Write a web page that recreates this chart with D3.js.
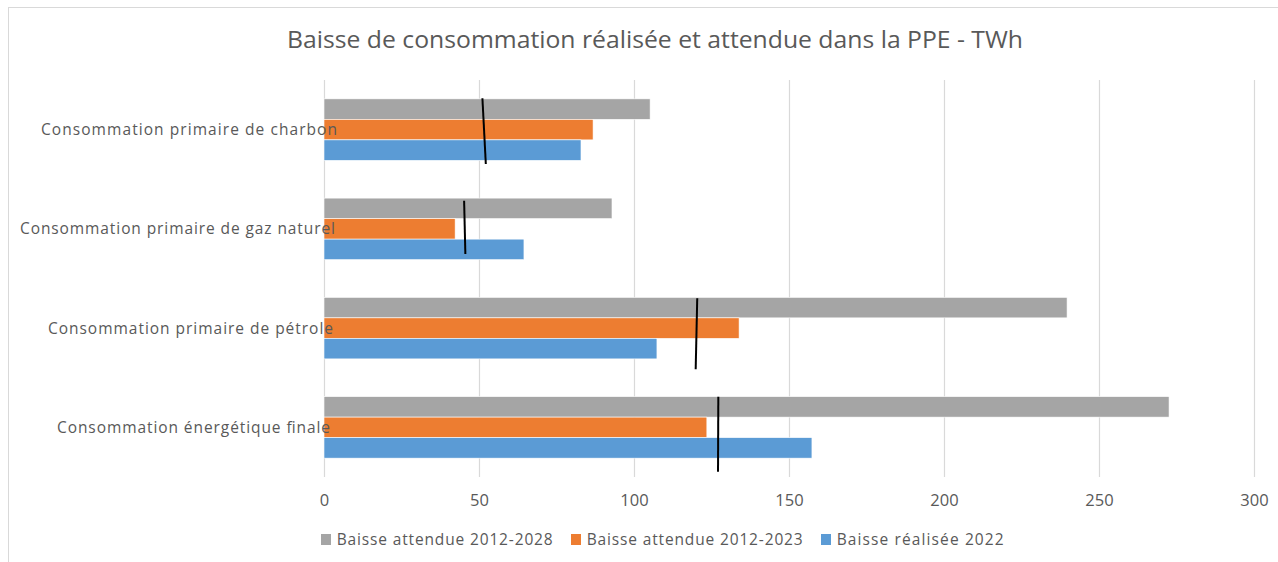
<!DOCTYPE html>
<html>
<head>
<meta charset="utf-8">
<script src="https://cdn.jsdelivr.net/npm/d3@7"></script>
<style>
  body { margin: 0; background: #fff; }
  text { font-family: "Open Sans", "DejaVu Sans", sans-serif; fill: #595959; }
</style>
</head>
<body>
<div id="chart"></div>
<script>
// Categories, top to bottom
const categories = [
    "Consommation primaire de charbon",
    "Consommation primaire de gaz naturel",
    "Consommation primaire de pétrole",
    "Consommation énergétique finale"
];

// Series (drawn top to bottom inside each group)
const seriesNames = ["Baisse attendue 2012-2028", "Baisse attendue 2012-2023", "Baisse réalisée 2022"];
const attendue2028 = [105.2, 92.9, 239.7, 272.6];
const attendue2023 = [86.8, 42.3, 133.9, 123.5];
const realisee2022 = [82.9, 64.5, 107.4, 157.4];

// Hand-drawn black marker lines (value at top end, value at bottom end)
const markerTop = [51.1, 45.2, 120.4, 127.2];
const markerBottom = [52.2, 45.6, 119.9, 127.1];

const xTicks = [0, 50, 100, 150, 200, 250, 300];

const colors = ["#a5a5a5", "#ed7d31", "#5b9bd5"];
const seriesValues = [attendue2028, attendue2023, realisee2022];

const width = 1278;
const height = 562;
const plot = {left: 324, right: 1254, top: 80, bottom: 477};

const svg = d3.select("#chart")
    .append("svg")
    .attr("width", width)
    .attr("height", height);

// Chart frame
svg.append("rect")
    .attr("x", 8.5)
    .attr("y", 7.5)
    .attr("width", 1290)
    .attr("height", 600)
    .attr("fill", "#fff")
    .attr("stroke", "#d9d9d9");

// Title
svg.append("text")
    .attr("x", 655)
    .attr("y", 48)
    .attr("text-anchor", "middle")
    .attr("font-size", 24)
    .attr("textLength", 736)
    .attr("lengthAdjust", "spacingAndGlyphs")
    .text("Baisse de consommation réalisée et attendue dans la PPE - TWh");

// Scales
const x = d3.scaleLinear()
    .domain([0, 300])
    .range([plot.left, plot.right]);
const y = d3.scaleBand()
    .domain(categories)
    .range([plot.top, plot.bottom])
    .paddingInner(0.38)
    .paddingOuter(0.19);
const ySub = d3.scaleBand()
    .domain(seriesNames)
    .range([0, y.bandwidth()]);

// Vertical gridlines
svg.append("g")
    .selectAll("line")
    .data(xTicks)
    .enter()
    .append("line")
    .attr("x1", d => Math.round(x(d)) + 0.5)
    .attr("x2", d => Math.round(x(d)) + 0.5)
    .attr("y1", plot.top)
    .attr("y2", plot.bottom)
    .attr("stroke", "#d9d9d9")
    .attr("stroke-width", 1.2);

// X axis tick labels
const xAxis = svg.append("g")
    .attr("transform", `translate(0, ${plot.bottom})`)
    .call(d3.axisBottom(x).tickValues(xTicks).tickSize(0).tickPadding(0));
xAxis.select(".domain").remove();
xAxis.selectAll("text")
    .attr("dy", null)
    .attr("y", 29)
    .attr("font-size", 16.5)
    .attr("font-family", "\"Open Sans\", sans-serif")
    .attr("fill", "#595959");

// Bars
const rows = [];
categories.forEach((c, i) => {
    seriesNames.forEach((s, j) => {
        rows.push({cat: c, series: s, value: seriesValues[j][i], color: colors[j]});
    });
});
svg.append("g")
    .selectAll("rect")
    .data(rows)
    .enter()
    .append("rect")
    .attr("x", x(0))
    .attr("y", d => y(d.cat) + ySub(d.series))
    .attr("width", d => x(d.value) - x(0))
    .attr("height", ySub.bandwidth())
    .attr("fill", d => d.color)
    .attr("stroke", "#fff")
    .attr("stroke-width", 0.6);

// Category labels (drawn over the bars like in the original)
const labelEnd = [337, 335, 333, 330];
const labelWidth = [296, 315, 285, 273];
svg.append("g")
    .selectAll("text")
    .data(categories)
    .enter()
    .append("text")
    .attr("x", (d, i) => labelEnd[i])
    .attr("y", d => y(d) + y.bandwidth() / 2 + 5.5)
    .attr("text-anchor", "end")
    .attr("font-size", 15.5)
    .attr("textLength", (d, i) => labelWidth[i])
    .attr("lengthAdjust", "spacing")
    .text(d => d);

// Marker lines, vertical extent given relative to the top of each band
const markerY = [[18.3, 84], [21.5, 74.8], [19.8, 90.8], [19, 94]];
svg.append("g")
    .selectAll("line")
    .data(categories)
    .enter()
    .append("line")
    .attr("x1", (d, i) => x(markerTop[i]))
    .attr("x2", (d, i) => x(markerBottom[i]))
    .attr("y1", (d, i) => y(d) - y.step() * 0.19 + markerY[i][0])
    .attr("y2", (d, i) => y(d) - y.step() * 0.19 + markerY[i][1])
    .attr("stroke", "#000")
    .attr("stroke-width", 2);

// Legend
const legend = svg.append("g")
    .selectAll("g")
    .data(seriesNames)
    .enter()
    .append("g")
    .attr("transform", (d, i) => `translate(${321 + i * 250}, 534)`);
legend.append("rect")
    .attr("width", 10)
    .attr("height", 11)
    .attr("fill", (d, i) => colors[i]);
legend.append("text")
    .attr("x", 15.7)
    .attr("y", 11)
    .attr("font-size", 15.5)
    .attr("textLength", (d, i) => [216, 216, 167][i])
    .attr("lengthAdjust", "spacing")
    .text(d => d);
</script>
</body>
</html>
